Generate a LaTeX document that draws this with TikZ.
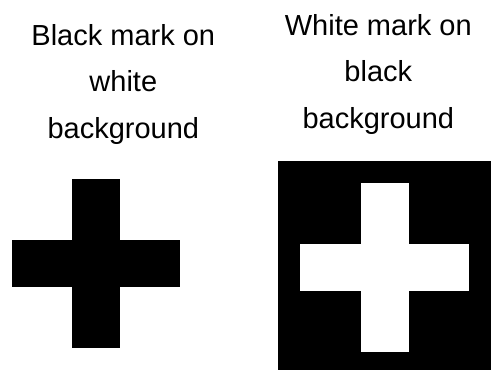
\documentclass[tikz,border=0pt]{standalone}
\usepackage{fontspec}
\setmainfont{Liberation Sans}
\begin{document}
\begin{tikzpicture}[x=1pt,y=-1pt,
  label/.style={align=center,anchor=base,inner sep=0pt,font=\fontsize{29}{46.5}\selectfont}]
\useasboundingbox (0,0) rectangle (491,370);
% left: black mark on white
\fill[black] (72,179) rectangle (120,347.7);
\fill[black] (12,240) rectangle (180,287.3);
% right: white mark on black
\fill[black] (278.3,161) rectangle (491,370);
\fill[white] (360.7,183.3) rectangle (408.7,351.7);
\fill[white] (300.3,243.7) rectangle (469,291);
\node[label] (lt) at (123.3,138.3) {Black mark on\\white\\background};
\node[label] (rt) at (378.3,128.3) {White mark on\\black\\background};
\end{tikzpicture}
\end{document}
